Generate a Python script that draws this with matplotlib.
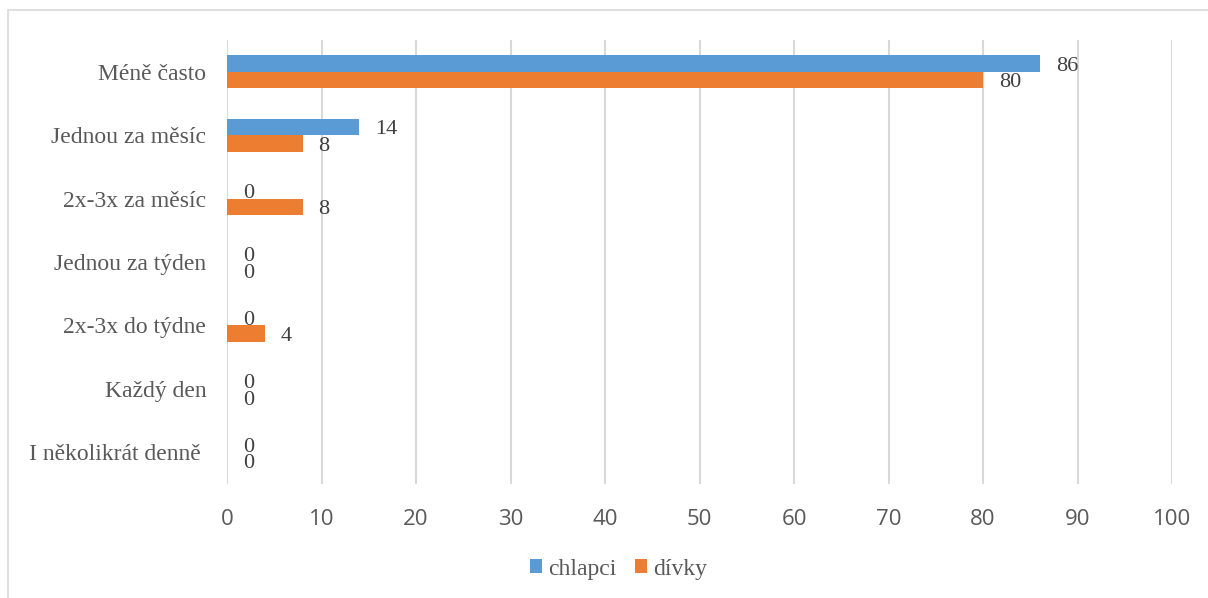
import numpy as np
import matplotlib.pyplot as plt
from matplotlib.patches import Rectangle

# Data
categories = ['Méně často', 'Jednou za měsíc', '2x-3x za měsíc', 'Jednou za týden',
              '2x-3x do týdne', 'Každý den', 'I několikrát denně ']
chlapci = [86, 14, 0, 0, 0, 0, 0]
divky = [80, 8, 8, 0, 4, 0, 0]
xticks = [0, 10, 20, 30, 40, 50, 60, 70, 80, 90, 100]

blue = '#5B9BD5'
orange = '#ED7D31'
txt = '#595959'
serif = ['Liberation Serif', 'DejaVu Serif']

fig = plt.figure(figsize=(12.08, 5.98), dpi=100)
fig.patches.append(Rectangle((8 / 1208, -0.01), 1.2, 1 - 10 / 598 + 0.01,
                             transform=fig.transFigure, fill=False,
                             edgecolor='#D9D9D9', linewidth=1.2))
ax = fig.add_axes([227 / 1208, 1 - 484 / 598, (1172 - 227) / 1208, (484 - 40) / 598])

y = np.arange(len(categories))
h = 0.26
b1 = ax.barh(y - h / 2, chlapci, height=h, color=blue, label='chlapci')
b2 = ax.barh(y + h / 2, divky, height=h, color=orange, label='dívky')

for bars, vals in ((b1, chlapci), (b2, divky)):
    for bar, v in zip(bars, vals):
        ax.annotate(str(v), (v, bar.get_y() + bar.get_height() / 2),
                    xytext=(16, -3), textcoords='offset pixels',
                    ha='left', va='center', fontsize=16, color='#404040',
                    family=serif)

ax.set_ylim(len(categories) - 0.5, -0.5)
ax.set_xlim(0, 100)
ax.set_xticks(xticks)
ax.set_yticks(y)
ax.set_yticklabels(categories, family=serif, fontsize=17, color=txt)
for lab in ax.get_xticklabels():
    lab.set_family(['Open Sans', 'DejaVu Sans'])
    lab.set_fontsize(16)
    lab.set_color(txt)
ax.tick_params(axis='y', length=0, pad=15)
ax.tick_params(axis='x', length=0, pad=18)
ax.grid(axis='x', color='#D9D9D9', linewidth=1.5)
ax.set_axisbelow(True)
for s in ax.spines.values():
    s.set_visible(False)

leg = fig.legend(loc='center', bbox_to_anchor=(0.512, 1 - 569 / 598), ncol=2,
                 frameon=False, prop={'family': serif, 'size': 17},
                 handlelength=0.5, handleheight=0.5, handletextpad=0.25,
                 columnspacing=0.8)
for t in leg.get_texts():
    t.set_color(txt)

fig.savefig('out.png', dpi=100)
